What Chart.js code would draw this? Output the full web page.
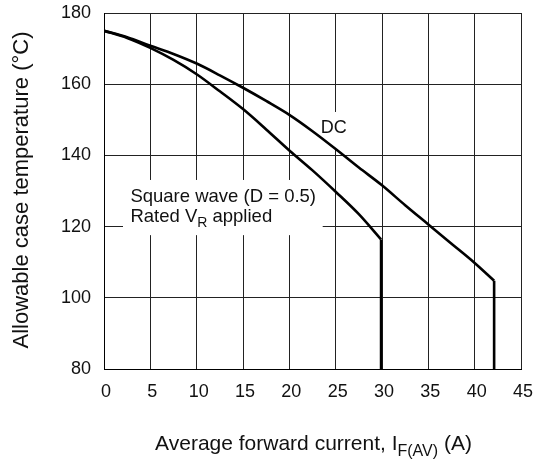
<!DOCTYPE html>
<html lang="en">
<head>
<meta charset="UTF-8">
<title>Allowable case temperature vs. average forward current</title>
<script src="https://cdn.jsdelivr.net/npm/chart.js"></script>
<style>
  html, body { margin: 0; padding: 0; background: #fff; }
</style>
</head>
<body>

<canvas id="myChart" width="536" height="464"></canvas>

<script>
// values
const xTicks = [0, 5, 10, 15, 20, 25, 30, 35, 40, 45];
const yTicks = [80, 100, 120, 140, 160, 180];

const dcCurrent = [0, 2.5, 5, 7.5, 10, 12.5, 15, 17.5, 20, 22.5, 25, 27.5, 30, 32.5, 35, 37.5, 40, 42.1];
const dcTemp    = [175, 173.2, 170.8, 168.5, 165.8, 162.5, 159, 155.3, 151.4, 146.8, 141.8, 136.6, 131.6, 126, 120.6, 115.2, 109.8, 104.8];

const sqCurrent = [0, 2.5, 5, 7.5, 10, 12.5, 15, 17.5, 20, 22.5, 25, 27.5, 29.9];
const sqTemp    = [175, 173, 170.2, 166.8, 162.8, 158, 153, 147.3, 141.4, 135.8, 129.8, 123.5, 116.4];

const yMin = 80;

const FONT = '"Liberation Sans", Arial, Helvetica, sans-serif';
const FS = 18;

function pts(xs, ys) {
    return xs.map((x, i) => ({ x: x, y: ys[i] }));
}
function drop(xs, ys) {
    const n = xs.length - 1;
    return [{ x: xs[n], y: ys[n] }, { x: xs[n], y: yMin }];
}

// draws text made of pieces, some of them subscripts
function richText(ctx, parts, x, y, align, size) {
    size = size || FS;
    const sub = Math.round(size * 0.75);
    const widths = parts.map(p => {
        ctx.font = (p.sub ? sub : size) + 'px ' + FONT;
        return ctx.measureText(p.t).width;
    });
    const total = widths.reduce((a, b) => a + b, 0);
    let cx = align === 'center' ? x - total / 2 : x;
    ctx.textAlign = 'left';
    ctx.textBaseline = 'alphabetic';
    parts.forEach((p, i) => {
        ctx.font = (p.sub ? sub : size) + 'px ' + FONT;
        ctx.fillText(p.t, cx, p.sub ? y + size * 0.28 : y);
        cx += widths[i];
    });
}

const textLayer = {
    id: 'textLayer',
    beforeDatasetsDraw(chart) {
        const ctx = chart.ctx;
        const xs = chart.scales.x, ys = chart.scales.y;
        ctx.save();
        ctx.fillStyle = '#fff';
        // white boxes behind the notes
        const l1 = xs.getPixelForValue(2.05), r1 = xs.getPixelForValue(23.6);
        const t1 = ys.getPixelForValue(133.1), b1 = ys.getPixelForValue(117.6);
        ctx.fillRect(l1, t1, r1 - l1, b1 - t1);
        const l2 = xs.getPixelForValue(23.2), r2 = xs.getPixelForValue(26.6);
        const t2 = ys.getPixelForValue(152.2), b2 = ys.getPixelForValue(141.6);
        ctx.fillRect(l2, t2, r2 - l2, b2 - t2);
        ctx.restore();
    },
    afterDraw(chart) {
        const ctx = chart.ctx;
        const xs = chart.scales.x, ys = chart.scales.y;
        const area = chart.chartArea;
        ctx.save();
        ctx.fillStyle = '#111';
        ctx.font = FS + 'px ' + FONT;

        ctx.textAlign = 'center';
        ctx.textBaseline = 'middle';
        xTicks.forEach(v => ctx.fillText(String(v), xs.getPixelForValue(v) + 2, area.bottom + 23));

        ctx.textAlign = 'right';
        yTicks.forEach(v => ctx.fillText(String(v), area.left - 13, ys.getPixelForValue(v)));

        // axis titles
        richText(ctx, [{ t: 'Average forward current, I' }, { t: 'F(AV)', sub: true }, { t: ' (A)' }],
            (area.left + area.right) / 2 + 1, area.bottom + 81, 'center', 21);

        ctx.save();
        ctx.translate(28, area.top + 177);
        ctx.rotate(-Math.PI / 2);
        richText(ctx, [{ t: 'Allowable case temperature (°C)' }], 0, 0, 'center', 22);
        ctx.restore();

        // notes
        ctx.font = FS + 'px ' + FONT;
        ctx.textAlign = 'center';
        ctx.textBaseline = 'middle';
        ctx.fillText('DC', xs.getPixelForValue(24.8), ys.getPixelForValue(147.6));

        const nx = xs.getPixelForValue(2.85);
        richText(ctx, [{ t: 'Square wave (D = 0.5)' }], nx, ys.getPixelForValue(128.9) + 7, 'left', 18.5);
        richText(ctx, [{ t: 'Rated V' }, { t: 'R', sub: true }, { t: ' applied' }], nx, ys.getPixelForValue(123.3) + 7, 'left', 18.5);
        ctx.restore();
    }
};

const lineStyle = { borderColor: '#000', borderWidth: 2.6, pointRadius: 0, showLine: true, fill: false };

const ctx = document.getElementById('myChart').getContext('2d');
const myChart = new Chart(ctx, {
    type: 'scatter',
    data: {
        datasets: [
            Object.assign({ label: 'DC', data: pts(dcCurrent, dcTemp), cubicInterpolationMode: 'monotone' }, lineStyle),
            Object.assign({ label: 'DC limit', data: drop(dcCurrent, dcTemp) }, lineStyle),
            Object.assign({ label: 'Square wave', data: pts(sqCurrent, sqTemp), cubicInterpolationMode: 'monotone' }, lineStyle),
            Object.assign({ label: 'Square wave limit', data: drop(sqCurrent, sqTemp) }, lineStyle)
        ]
    },
    options: {
        responsive: false,
        animation: false,
        layout: { padding: { left: 104, top: 13, right: 15, bottom: 95 } },
        plugins: { legend: { display: false }, tooltip: { enabled: false } },
        scales: {
            x: {
                type: 'linear', min: 0, max: 45,
                ticks: { display: false, stepSize: 5 },
                grid: { color: '#222', lineWidth: 1, drawTicks: false },
                border: { color: '#000', width: 1 }
            },
            y: {
                type: 'linear', min: 80, max: 180,
                ticks: { display: false, stepSize: 20 },
                grid: { color: '#222', lineWidth: 1, drawTicks: false },
                border: { color: '#000', width: 1 }
            }
        }
    },
    plugins: [textLayer]
});
</script>

</body>
</html>
